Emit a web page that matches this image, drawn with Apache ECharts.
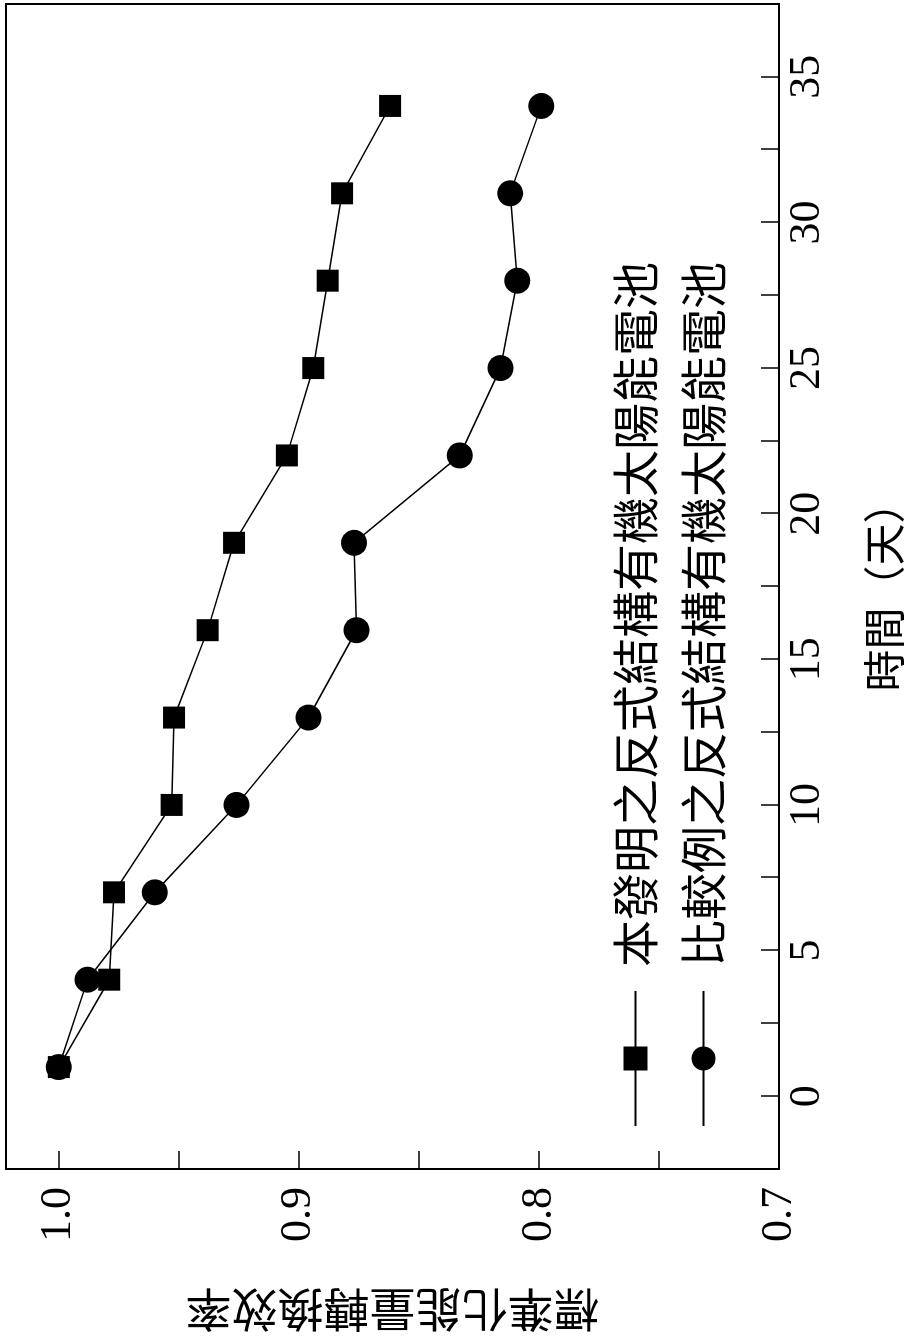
<!DOCTYPE html>
<html>
<head>
<meta charset="utf-8">
<script src="https://cdn.jsdelivr.net/npm/echarts@6/dist/echarts.min.js"></script>
<style>
html,body{margin:0;padding:0;background:#fff;overflow:hidden;width:910px;height:1343px;}
#chart{position:absolute;left:0;top:0;width:1343px;height:910px;transform-origin:0 0;transform:translate(0,1343px) rotate(-90deg);}
</style>
</head>
<body>
<div id="chart"></div>
<script>
// Time (days)
var days = [1, 4, 7, 10, 13, 16, 19, 22, 25, 28, 31, 34];
// Normalized power conversion efficiency
var inventionEff = [1.0, 0.979, 0.977, 0.953, 0.952, 0.938, 0.927, 0.905, 0.894, 0.888, 0.882, 0.862];
var comparativeEff = [1.0, 0.988, 0.960, 0.926, 0.896, 0.876, 0.877, 0.833, 0.816, 0.809, 0.812, 0.799];
var seriesNames = ['本發明之反式結構有機太陽能電池', '比較例之反式結構有機太陽能電池'];
var xAxisName = '時間（天）';
var yAxisName = '標準化能量轉換效率';
var xTickLabels = [0, 5, 10, 15, 20, 25, 30, 35];
var yTickLabels = ['0.7', '0.8', '0.9', '1.0'];

function pairs(xs, ys) { return xs.map(function (x, i) { return [x, ys[i]]; }); }

var chart = echarts.init(document.getElementById('chart'), null, { renderer: 'canvas' });
var numFont = 'Liberation Serif';
var cjkFont = 'Noto Sans CJK TC';
chart.setOption({
  animation: false,
  backgroundColor: '#fff',
  grid: { left: 174, right: 4, top: 6, bottom: 129, show: true, borderColor: '#000', borderWidth: 2, backgroundColor: 'transparent' },
  legend: {
    orient: 'vertical',
    left: 211,
    top: 607,
    itemWidth: 135,
    itemHeight: 30,
    itemGap: 21,
    data: seriesNames,
    textStyle: { fontFamily: cjkFont, fontSize: 47, color: '#000', padding: [0, 0, 0, 19] }
  },
  xAxis: {
    type: 'value',
    min: -2.5,
    max: 37.5,
    interval: 2.5,
    name: xAxisName,
    nameLocation: 'middle',
    nameGap: 84,
    nameTextStyle: { fontFamily: cjkFont, fontSize: 42, color: '#000' },
    axisLine: { show: true, onZero: false, lineStyle: { color: '#000', width: 2 } },
    axisTick: { show: true, inside: true, length: 18, lineStyle: { color: '#000', width: 1.5 } },
    axisLabel: {
      margin: 6,
      fontFamily: numFont,
      fontSize: 44,
      color: '#000',
      formatter: function (v) { return xTickLabels.indexOf(v) >= 0 ? String(v) : ''; }
    },
    splitLine: { show: false }
  },
  yAxis: {
    type: 'value',
    min: 0.7,
    max: 1.022,
    interval: 0.05,
    name: yAxisName,
    nameLocation: 'middle',
    nameGap: 118,
    nameTextStyle: { fontFamily: cjkFont, fontSize: 46, color: '#000' },
    axisLine: { show: true, onZero: false, lineStyle: { color: '#000', width: 2 } },
    axisTick: { show: true, inside: true, length: 18, lineStyle: { color: '#000', width: 1.5 } },
    axisLabel: {
      margin: 18,
      fontFamily: numFont,
      fontSize: 44,
      color: '#000',
      formatter: function (v) { var s = v.toFixed(1); return (Math.abs(v - parseFloat(s)) < 1e-6 && yTickLabels.indexOf(s) >= 0) ? s : ''; }
    },
    splitLine: { show: false }
  },
  series: [
    {
      name: seriesNames[0],
      type: 'line',
      data: pairs(days, inventionEff),
      symbol: 'rect',
      symbolSize: 22,
      itemStyle: { color: '#000' },
      lineStyle: { color: '#000', width: 1.5 },
      z: 3
    },
    {
      name: seriesNames[1],
      type: 'line',
      data: pairs(days, comparativeEff),
      symbol: 'circle',
      symbolSize: 26,
      itemStyle: { color: '#000' },
      lineStyle: { color: '#000', width: 1.5 },
      z: 2
    }
  ]
});
</script>
</body>
</html>
